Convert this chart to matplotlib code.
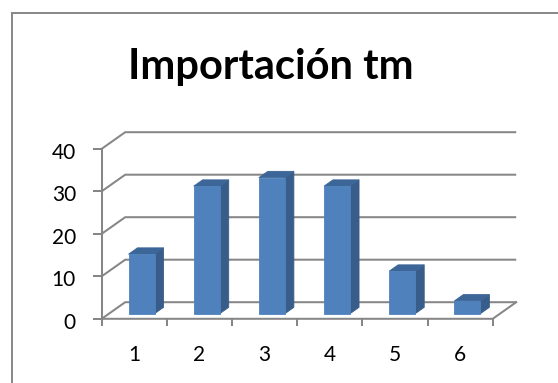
import matplotlib
matplotlib.use("Agg")
import matplotlib.pyplot as plt
from matplotlib.patches import Polygon
from matplotlib.lines import Line2D

# ---- data ----
categories = ["1", "2", "3", "4", "5", "6"]
values = [14, 30, 32, 30, 10, 3]
y_ticks = [0, 10, 20, 30, 40]
title = "Importación tm"

plt.rcParams['font.family'] = ['Lato', 'DejaVu Sans']

W, H, DPI = 558, 383, 100
fig = plt.figure(figsize=(W / DPI, H / DPI), dpi=DPI)
fig.patch.set_facecolor("white")

# pixel geometry of the plot (oblique projection)
PX_X0 = 101.7          # px of category 0 on front floor
PX_PER_CAT = 65.17
PX_Y0 = 318.8          # px (from top) of value 0 on front
PX_PER_VAL = 4.25
DEPTH_DX_PX, DEPTH_DY_PX = 23.5, 16.6

ax = fig.add_axes([0, 0, 1, 1])
ax.set_xlim(-PX_X0 / PX_PER_CAT, (W - PX_X0) / PX_PER_CAT)
ax.set_ylim(-(H - PX_Y0) / PX_PER_VAL, PX_Y0 / PX_PER_VAL)
ax.axis("off")

DX = DEPTH_DX_PX / PX_PER_CAT
DY = DEPTH_DY_PX / PX_PER_VAL
n = len(categories)
ymax = max(y_ticks)

grid_c = "#868686"
lw = 1.45

# gridlines: left wall + back wall
for v in y_ticks:
    ax.plot([0, DX, n + DX], [v, v + DY, v + DY], color=grid_c, lw=lw,
            solid_capstyle="butt", zorder=1)
    # value tick marks
    ax.plot([-8 / PX_PER_CAT, 0], [v, v], color=grid_c, lw=lw, zorder=1)
# floor front & right edge
ax.plot([0, n, n + DX], [0, 0, DY], color=grid_c, lw=lw, zorder=1)
# vertical value axis
ax.plot([0, 0], [0, ymax], color=grid_c, lw=lw, zorder=1)
# category tick marks
for k in range(n + 1):
    ax.plot([k, k], [0, -6.5 / PX_PER_VAL], color=grid_c, lw=lw, zorder=1)

# bars
front_c, side_c, top_c = "#4F81BD", "#385D8A", "#3C6697"
d0, d1 = 0.31, 0.69
bw0, bw1 = 0.3, 0.7
for i, v in enumerate(values):
    xl = i + bw0 + d0 * DX
    xr = i + bw1 + d0 * DX
    yb = d0 * DY
    front = [(xl, yb), (xr, yb), (xr, yb + v), (xl, yb + v)]
    side = [(xr, yb), (i + bw1 + d1 * DX, d1 * DY),
            (i + bw1 + d1 * DX, d1 * DY + v), (xr, yb + v)]
    top = [(xl, yb + v), (xr, yb + v), (i + bw1 + d1 * DX, d1 * DY + v),
           (i + bw0 + d1 * DX, d1 * DY + v)]
    for poly, c in ((side, side_c), (top, top_c), (front, front_c)):
        ax.add_patch(Polygon(poly, closed=True, facecolor=c, edgecolor=c,
                             lw=0.6, zorder=3))

# value labels
for v in y_ticks:
    ax.text((76 - PX_X0) / PX_PER_CAT, v - 10 / PX_PER_VAL, str(v),
            ha="right", va="baseline", fontsize=15, color="black")
# category labels
for i, c in enumerate(categories):
    ax.text(i + 0.5, -(360.7 - PX_Y0) / PX_PER_VAL, c, ha="center",
            va="baseline", fontsize=15, color="black")

# title
fig.text(270.5 / W, 1 - 79 / H, title, ha="center", va="baseline",
         fontsize=30, fontweight="bold", color="black")

# chart border (left and top edges visible)
bx, by = 12 / W, 1 - 12.7 / H
fig.add_artist(Line2D([bx, bx], [0, by], transform=fig.transFigure,
                      color="#878787", lw=1.4))
fig.add_artist(Line2D([bx, 1], [by, by], transform=fig.transFigure,
                      color="#878787", lw=1.4))

fig.savefig("out.png", dpi=DPI, facecolor="white")
